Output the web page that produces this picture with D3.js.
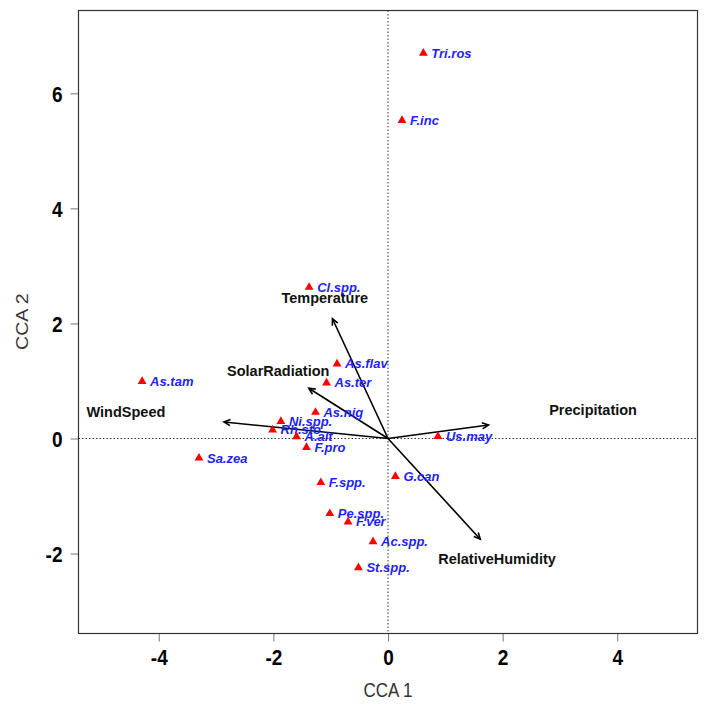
<!DOCTYPE html>
<html>
<head>
<meta charset="utf-8">
<script src="https://cdn.jsdelivr.net/npm/d3@7"></script>
<style>
  body { margin: 0; background: #fff; }
  svg { display: block; }
</style>
</head>
<body>
<svg id="chart" width="711" height="710"></svg>
<script>
// ---- Data ----
const species = ["Tri.ros","F.inc","Cl.spp.","As.flav","As.ter","As.tam","As.nig","Ni.spp.","Rh.sto","A.alt","F.pro","Sa.zea","Us.may","G.can","F.spp.","Pe.spp.","F.ver","Ac.spp.","St.spp."];
const speciesCCA1 = [0.617,0.244,-1.376,-0.889,-1.073,-4.29,-1.265,-1.869,-2.014,-1.596,-1.422,-3.298,0.871,0.129,-1.172,-1.016,-0.697,-0.261,-0.516];
const speciesCCA2 = [6.70,5.53,2.628,1.296,0.965,0.993,0.455,0.298,0.148,0.031,-0.155,-0.34,0.037,-0.66,-0.765,-1.305,-1.449,-1.793,-2.246];

const envVars = ["Temperature","SolarRadiation","WindSpeed","Precipitation","RelativeHumidity"];
const envCCA1 = [-0.969,-1.382,-2.862,1.753,1.61];
const envCCA2 = [2.082,0.873,0.287,0.235,-1.751];
// label anchor points for environmental variables (data units)
const envLabelCCA1 = [-1.103,-1.915,-4.573,3.578,1.902];
const envLabelCCA2 = [2.437,1.169,0.455,0.497,-2.10];

const xTicks = [-4,-2,0,2,4];
const yTicks = [-2,0,2,4,6];
const xTitle = "CCA 1";
const yTitle = "CCA 2";

// ---- Layout ----
const svg = d3.select("#chart");
const L = 78.5, R = 697.5, T = 10.5, B = 633.5;
const x = d3.scaleLinear().domain([-5.4, 5.4]).range([L, R]);
const y = d3.scaleLinear().domain([-3.39, 7.44]).range([B, T]);

const font = "Liberation Sans, Arial, Helvetica, sans-serif";
const stretch = 1.15;

// zero lines
svg.append("line").attr("x1", x(0)).attr("x2", x(0)).attr("y1", T).attr("y2", B)
  .attr("stroke", "#333").attr("stroke-width", 1).attr("stroke-dasharray", "1.5,2");
svg.append("line").attr("x1", L).attr("x2", R).attr("y1", y(0)).attr("y2", y(0))
  .attr("stroke", "#333").attr("stroke-width", 1).attr("stroke-dasharray", "1.5,2");

// axes
const fmt = d => String(d);
const xAxis = d3.axisBottom(x).tickValues(xTicks).tickSize(8).tickFormat(fmt);
const yAxis = d3.axisLeft(y).tickValues(yTicks).tickSize(8).tickPadding(8).tickFormat(fmt);
const gx = svg.append("g").attr("transform", `translate(0,${B})`).call(xAxis);
const gy = svg.append("g").attr("transform", `translate(${L},0)`).call(yAxis);
[gx, gy].forEach(g => {
  g.select(".domain").remove();
  g.selectAll(".tick line").attr("stroke", "#777");
  g.selectAll(".tick text").attr("font-family", font).attr("font-weight", "bold")
    .attr("font-size", 19).attr("fill", "#000")
    .attr("transform", `scale(1,${stretch})`);
});
gx.selectAll(".tick text").attr("y", 16 / stretch);
gy.selectAll(".tick text").attr("dy", "0.36em");

// box
svg.append("rect").attr("x", L).attr("y", T).attr("width", R - L).attr("height", B - T)
  .attr("fill", "none").attr("stroke", "#333").attr("stroke-width", 1.2);

// axis titles
svg.append("text").attr("transform", `translate(${x(0)},697) scale(1,${stretch})`).attr("text-anchor", "middle")
  .attr("font-family", font).attr("font-size", 17).attr("fill", "#333").text(xTitle);
svg.append("text").attr("transform", `translate(28,${y(2.03)}) rotate(-90) scale(${stretch},1)`).attr("text-anchor", "middle")
  .attr("font-family", font).attr("font-size", 17).attr("fill", "#333").text(yTitle);

// arrows
const head = 7, ang = Math.PI / 7;
const arrows = svg.append("g");
envVars.forEach((v, i) => {
  const x0 = x(0), y0 = y(0), x1 = x(envCCA1[i]), y1 = y(envCCA2[i]);
  arrows.append("line").attr("x1", x0).attr("y1", y0).attr("x2", x1).attr("y2", y1)
    .attr("stroke", "#000").attr("stroke-width", 1.6);
  const a = Math.atan2(y1 - y0, x1 - x0);
  const p = [
    [x1 - head * Math.cos(a - ang), y1 - head * Math.sin(a - ang)],
    [x1, y1],
    [x1 - head * Math.cos(a + ang), y1 - head * Math.sin(a + ang)]
  ];
  arrows.append("path").attr("d", d3.line()(p)).attr("fill", "none")
    .attr("stroke", "#000").attr("stroke-width", 1.6);
  arrows.append("text").attr("x", x(envLabelCCA1[i])).attr("y", y(envLabelCCA2[i]))
    .attr("text-anchor", "middle").attr("dominant-baseline", "central")
    .attr("font-family", font).attr("font-weight", "bold").attr("font-size", 14.5)
    .attr("fill", "#111").text(v);
});

// species points
const pts = svg.append("g");
const tri = d3.symbol().type(d3.symbolTriangle).size(34);
species.forEach((s, i) => {
  const px = x(speciesCCA1[i]), py = y(speciesCCA2[i]);
  pts.append("path").attr("d", tri).attr("transform", `translate(${px},${py})`).attr("fill", "#ff0000");
  pts.append("text").attr("x", px + 8).attr("y", py).attr("dominant-baseline", "central")
    .attr("font-family", font).attr("font-weight", "bold").attr("font-style", "italic")
    .attr("font-size", 13).attr("fill", "#1f1fff").text(s);
});
</script>
</body>
</html>
